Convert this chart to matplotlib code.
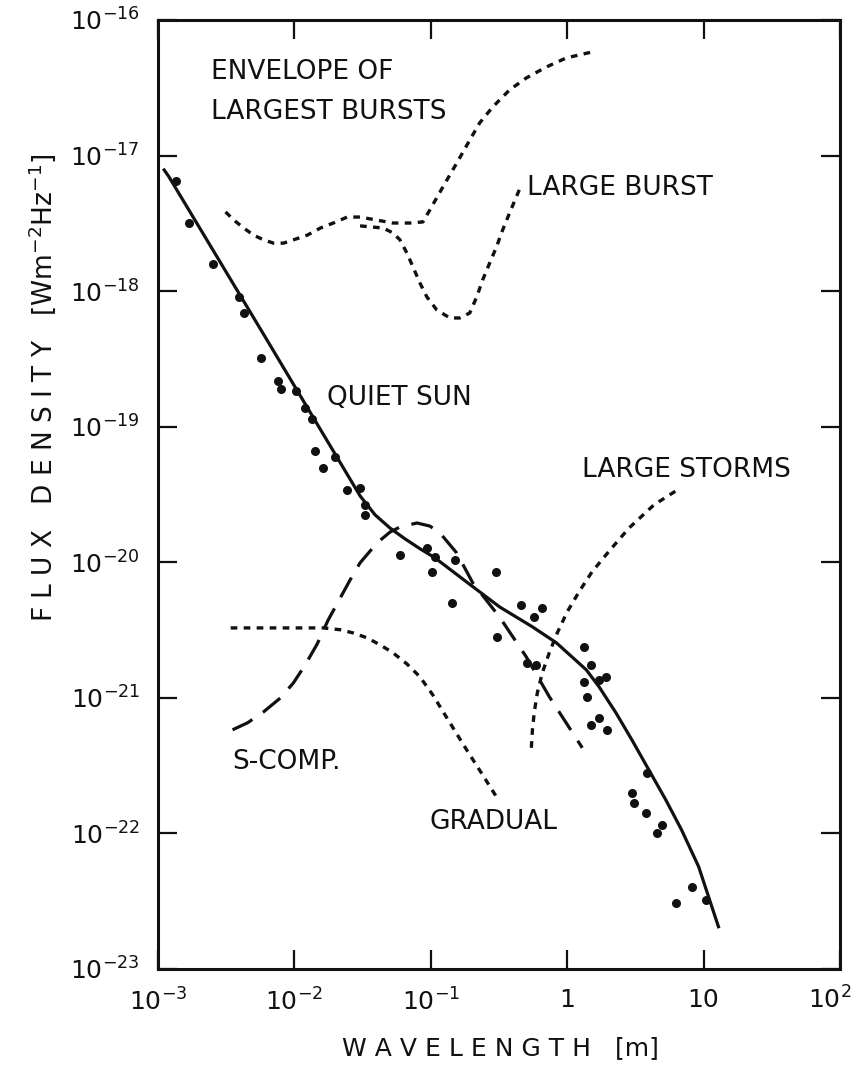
import matplotlib
matplotlib.use("Agg")
import matplotlib.pyplot as plt

# ---------------- DATA ----------------

# quiet sun fit (solid line)
quiet_wl = [1.11e-3, 1.2e-3, 6.35e-3, 3.03e-2, 3.9e-2, 5.02e-2, 6.46e-2, 8.32e-2,
            0.107, 0.183, 0.319, 0.556, 0.832, 1.087, 1.38, 1.714, 2.28, 2.98,
            3.97, 5.28, 6.90, 9.2, 12.85]
quiet_flux = [7.83e-18, 7.0e-18, 4.3e-19, 3.09e-20, 2.24e-20, 1.79e-20, 1.49e-20,
              1.26e-20, 1.08e-20, 7.16e-21, 4.69e-21, 3.34e-21, 2.55e-21, 2.0e-21,
              1.61e-21, 1.205e-21, 7.74e-22, 4.9e-22, 2.94e-22, 1.77e-22,
              1.06e-22, 5.68e-23, 2.05e-23]

# quiet sun measurements (dots)
obs_wl = [1.35e-3, 1.68e-3, 2.52e-3, 3.9e-3, 4.25e-3, 5.65e-3, 7.52e-3, 8.04e-3,
          1.035e-2, 1.2e-2, 1.35e-2, 1.42e-2, 1.63e-2, 1.99e-2, 2.44e-2, 3.03e-2,
          3.3e-2, 3.3e-2, 5.94e-2, 9.36e-2, 0.107, 0.1017, 0.15, 0.142, 0.303,
          0.308, 0.461, 0.574, 0.657, 0.511, 0.594, 1.33, 1.5, 1.33, 1.71, 1.93,
          1.4, 1.5, 1.71, 1.96, 3.84, 2.98, 3.08, 3.78, 4.93, 4.54, 8.17, 6.25,
          10.4]
obs_flux = [6.5e-18, 3.18e-18, 1.59e-18, 9.06e-19, 6.9e-19, 3.21e-19, 2.18e-19,
            1.9e-19, 1.84e-19, 1.38e-19, 1.14e-19, 6.64e-20, 4.97e-20, 5.98e-20,
            3.42e-20, 3.54e-20, 2.65e-20, 2.24e-20, 1.13e-20, 1.28e-20, 1.1e-20,
            8.5e-21, 1.04e-20, 5.02e-21, 8.5e-21, 2.82e-21, 4.85e-21, 3.95e-21,
            4.62e-21, 1.81e-21, 1.75e-21, 2.38e-21, 1.75e-21, 1.31e-21, 1.36e-21,
            1.43e-21, 1.02e-21, 6.32e-22, 7.13e-22, 5.81e-22, 2.8e-22, 1.99e-22,
            1.68e-22, 1.42e-22, 1.16e-22, 1.01e-22, 4.04e-23, 3.08e-23, 3.24e-23]

# envelope of largest bursts (dotted)
env_wl = [3.13e-3, 3.59e-3, 4.25e-3, 5.02e-3, 5.94e-3, 7.03e-3, 8.32e-3,
          9.84e-3, 1.245e-2, 1.55e-2, 1.93e-2, 2.44e-2, 3.03e-2, 5.28e-2,
          7.03e-2, 8.75e-2, 9.84e-2, 0.1225, 0.155, 0.193, 0.228, 0.284, 0.378,
          0.502, 0.703, 0.984, 1.52]
env_flux = [3.84e-18, 3.35e-18, 2.92e-18, 2.59e-18, 2.39e-18, 2.26e-18,
            2.26e-18, 2.39e-18, 2.59e-18, 2.92e-18, 3.18e-18, 3.52e-18,
            3.52e-18, 3.18e-18, 3.18e-18, 3.24e-18, 3.97e-18, 5.86e-18,
            8.81e-18, 1.3e-17, 1.74e-17, 2.28e-17, 3.05e-17, 3.74e-17, 4.5e-17,
            5.25e-17, 5.81e-17]

# large burst (dotted)
burst_wl = [3.03e-2, 4.47e-2, 5.28e-2, 5.94e-2, 6.68e-2, 7.4e-2, 8.32e-2,
            9.36e-2, 0.1107, 0.138, 0.163, 0.193, 0.217, 0.24, 0.27, 0.303,
            0.336, 0.378, 0.461]
burst_flux = [3.03e-18, 2.92e-18, 2.69e-18, 2.39e-18, 1.91e-18, 1.51e-18,
              1.15e-18, 9.06e-19, 7.26e-19, 6.34e-19, 6.34e-19, 6.9e-19,
              9.06e-19, 1.21e-18, 1.61e-18, 2.12e-18, 2.82e-18, 3.77e-18,
              6.07e-18]

# large storms (dotted)
storm_wl = [0.546, 0.556, 0.574, 0.604, 0.657, 0.739, 0.845, 1.0, 1.22, 1.52,
            2.03, 2.84, 4.32, 6.79]
storm_flux = [4.28e-22, 5.81e-22, 7.88e-22, 1.09e-21, 1.53e-21, 2.15e-21,
              3.01e-21, 4.31e-21, 6.05e-21, 8.5e-21, 1.21e-20, 1.79e-20,
              2.65e-20, 3.54e-20]

# gradual (dotted)
grad_wl = [3.41e-3, 8.0e-3, 1.63e-2, 2.17e-2, 2.7e-2, 3.41e-2, 4.25e-2,
           5.28e-2, 6.68e-2, 8.32e-2, 0.1035, 0.138, 0.183, 0.24, 0.303]
grad_flux = [3.28e-21, 3.28e-21, 3.28e-21, 3.18e-21, 3.01e-21, 2.77e-21,
             2.46e-21, 2.15e-21, 1.78e-21, 1.43e-21, 1.05e-21, 6.55e-22,
             4.14e-22, 2.7e-22, 1.86e-22]

# s-component (dashed)
scomp_wl = [3.52e-3, 4.54e-3, 5.94e-3, 7.91e-3, 9.84e-3, 1.2e-2, 1.47e-2,
            1.77e-2, 2.17e-2, 2.56e-2, 3.03e-2, 4.04e-2, 5.02e-2, 5.94e-2,
            7.91e-2, 9.84e-2, 0.1165, 0.155, 0.203, 0.319, 0.502, 0.739, 1.29]
scomp_flux = [5.81e-22, 6.55e-22, 7.88e-22, 1.0e-21, 1.29e-21, 1.75e-21,
              2.5e-21, 3.76e-21, 5.46e-21, 7.41e-21, 9.91e-21, 1.39e-20,
              1.67e-20, 1.82e-20, 1.95e-20, 1.85e-20, 1.65e-20, 1.17e-20,
              7.05e-21, 3.95e-21, 2.0e-21, 1.02e-21, 4.28e-22]

x_ticks = [1e-3, 1e-2, 1e-1, 1, 10, 1e2]
x_tick_labels = [r'$10^{-3}$', r'$10^{-2}$', r'$10^{-1}$', '1', '10', '']
y_ticks = [1e-23, 1e-22, 1e-21, 1e-20, 1e-19, 1e-18, 1e-17, 1e-16]
y_tick_labels = [r'$10^{-23}$', r'$10^{-22}$', r'$10^{-21}$', r'$10^{-20}$',
                 r'$10^{-19}$', r'$10^{-18}$', r'$10^{-17}$', r'$10^{-16}$']

# ---------------- FIGURE ----------------

plt.rcParams['font.family'] = ['DejaVu Sans']
plt.rcParams['mathtext.fontset'] = 'dejavusans'

ink = '#111111'
fig = plt.figure(figsize=(8.54, 10.75), dpi=100)
ax = fig.add_axes([158 / 854, 1 - 969 / 1075, 682 / 854, 949 / 1075])

ax.set_xscale('log')
ax.set_yscale('log')
ax.set_xlim(1e-3, 1e2)
ax.set_ylim(1e-23, 1e-16)

dot = dict(color=ink, lw=2.4, dashes=(2.0, 1.9))

ax.plot(quiet_wl, quiet_flux, color=ink, lw=2.3, solid_joinstyle='round')
ax.plot(obs_wl, obs_flux, 'o', color=ink, ms=6.5, mec='none')
ax.plot(env_wl, env_flux, **dot)
ax.plot(burst_wl, burst_flux, **dot)
ax.plot(storm_wl, storm_flux, **dot)
ax.plot(grad_wl, grad_flux, **dot)
ax.plot(scomp_wl, scomp_flux, color=ink, lw=2.3, dashes=(7, 4))

# ---------------- LABELS ----------------

lab = dict(fontsize=19, color=ink, va='center', ha='left')
ax.text(2.44e-3, 4.14e-17, 'ENVELOPE OF', **lab)
ax.text(2.44e-3, 2.10e-17, 'LARGEST BURSTS', **lab)
ax.text(0.511, 5.77e-18, 'LARGE BURST', **lab)
ax.text(1.74e-2, 1.63e-19, 'QUIET SUN', **lab)
ax.text(1.29, 4.8e-20, 'LARGE STORMS', **lab)
ax.text(3.52e-3, 3.37e-22, 'S-COMP.', **lab)
ax.text(9.84e-2, 1.22e-22, 'GRADUAL', **lab)

# ---------------- AXES STYLE ----------------

ax.set_xticks(x_ticks)
ax.set_xticklabels(x_tick_labels)
ax.set_yticks(y_ticks)
ax.set_yticklabels(y_tick_labels)
ax.minorticks_off()
ax.tick_params(which='major', direction='in', length=14, width=1.6,
               top=True, right=True, labelsize=18, colors=ink)
ax.tick_params(axis='x', pad=14)
ax.tick_params(axis='y', pad=13)
for s in ax.spines.values():
    s.set_linewidth(2.2)
    s.set_color(ink)

# last x label would be cut at the figure edge, so place it by hand
fig.text(851 / 854, 1 - 1000 / 1075, r'$10^{2}$', fontsize=18, color=ink,
         ha='right', va='center')

fig.text(500 / 854, 1 - 1048 / 1075, 'W A V E L E N G T H   [m]',
         fontsize=18, color=ink, ha='center', va='center')
fig.text(42 / 854, 1 - 388 / 1075,
         r'F L U X   D E N S I T Y   [Wm$^{-2}$Hz$^{-1}$]',
         fontsize=19, color=ink, ha='center', va='center', rotation=90)

fig.savefig('out.png', dpi=100)
